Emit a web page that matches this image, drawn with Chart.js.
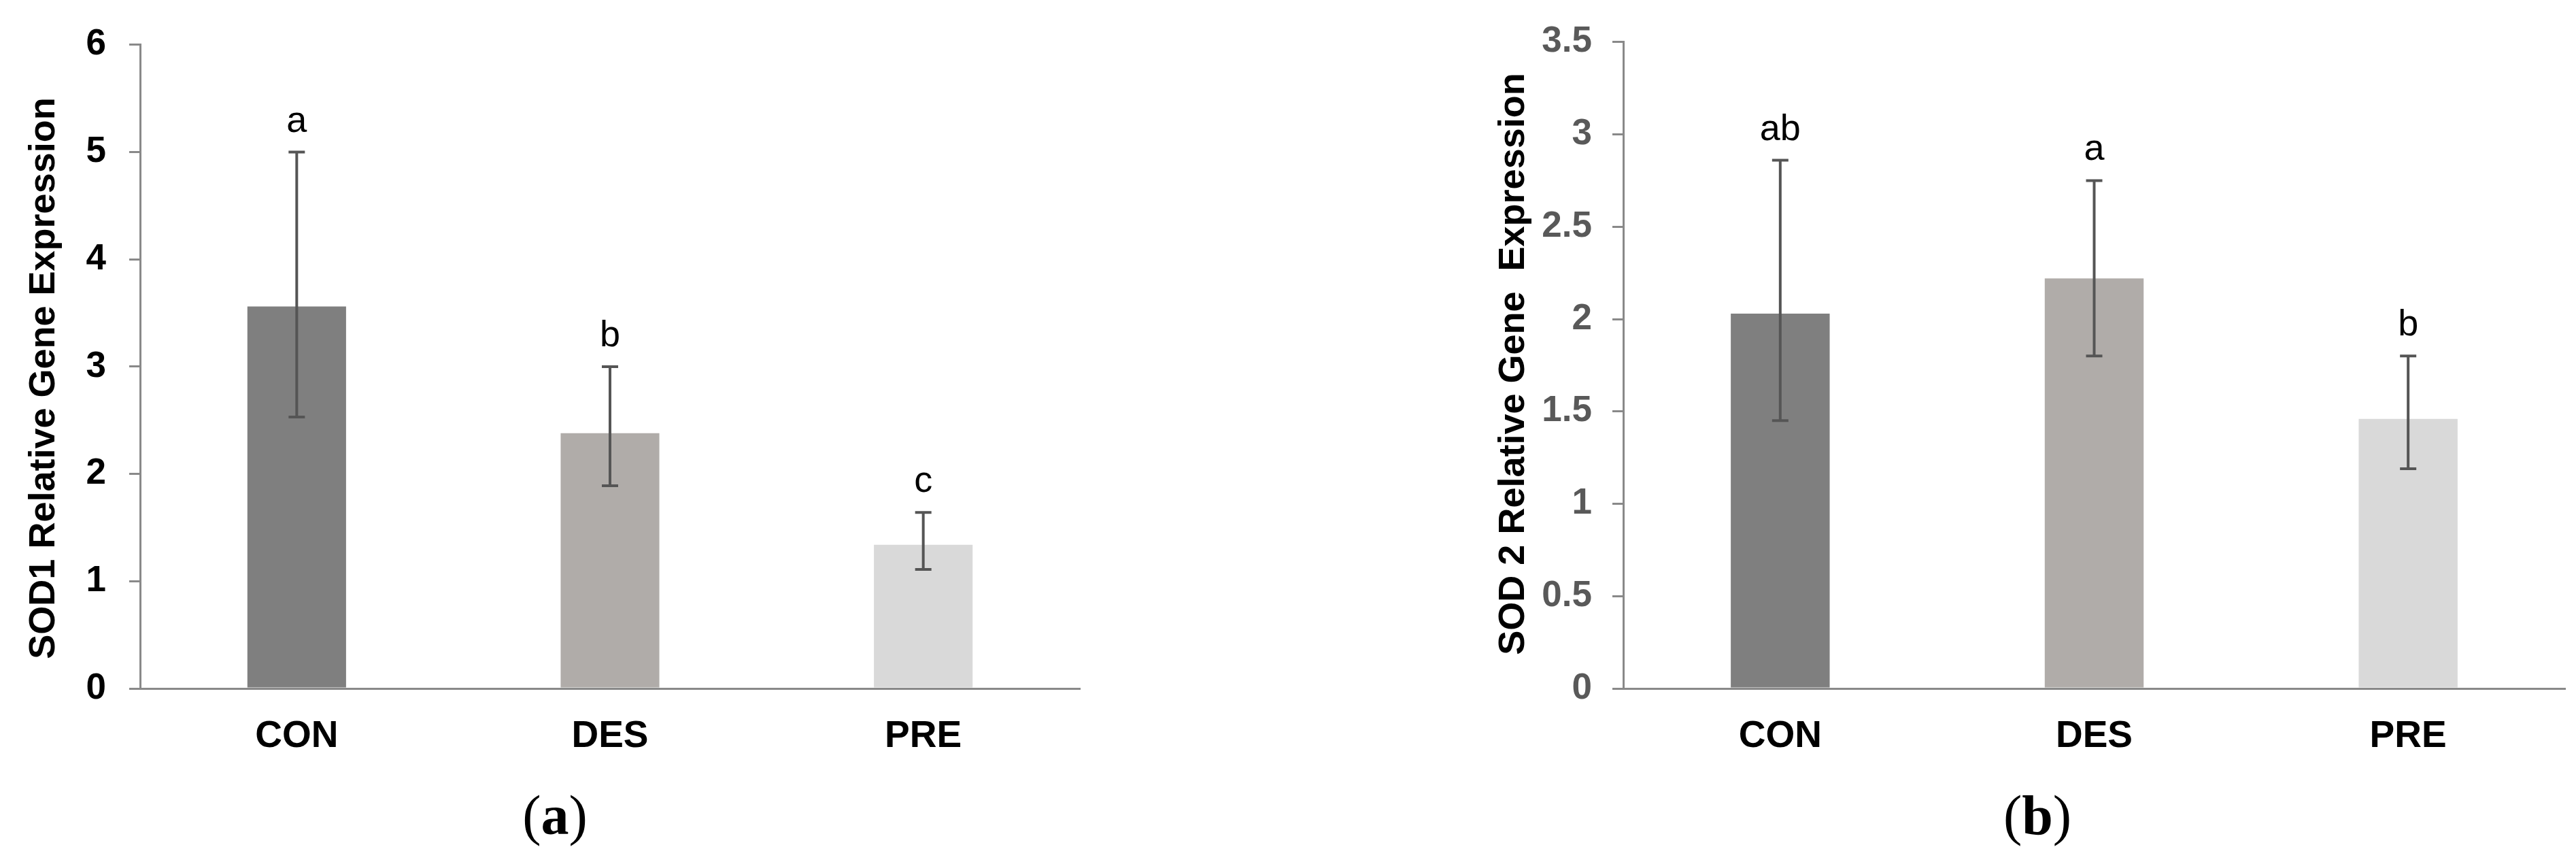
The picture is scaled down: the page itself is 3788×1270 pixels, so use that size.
<!DOCTYPE html>
<html>
<head>
<meta charset="utf-8">
<script src="https://cdn.jsdelivr.net/npm/chart.js@4"></script>
<style>
  body { margin: 0; background: #fff; width: 3788px; height: 1270px; position: relative; overflow: hidden; }
  canvas { position: absolute; top: 0; }
  #chartA { left: 0; }
  #chartB { left: 2140px; }
  .panel { position: absolute; top: 1158px; font-family: "Liberation Serif", "Times New Roman", serif; font-size: 82px; line-height: 1; transform: translateX(-50%); color: #000; }
  .panel b { font-weight: bold; }
</style>
</head>
<body>
<canvas id="chartA" width="1640" height="1130"></canvas>
<canvas id="chartB" width="1648" height="1130"></canvas>
<div class="panel" style="left:816px">(<b>a</b>)</div>
<div class="panel" style="left:2996px">(<b>b</b>)</div>
<script>
// data
const categories = ['CON', 'DES', 'PRE'];
const barColors = ['#7f7f7f', '#b0aca9', '#d9d9d9'];

const sod1Mean = [3.56, 2.38, 1.34];
const sod1Upper = [5.00, 3.00, 1.64];
const sod1Lower = [2.53, 1.89, 1.11];
const sod1Letters = ['a', 'b', 'c'];

const sod2Mean = [2.03, 2.22, 1.46];
const sod2Upper = [2.86, 2.75, 1.80];
const sod2Lower = [1.45, 1.80, 1.19];
const sod2Letters = ['ab', 'a', 'b'];

const sod1Axis = { max: 6, step: 1 };
const sod2Axis = { max: 3.5, step: 0.5 };

const axisGrey = '#898989';
const fontFam = '"Liberation Sans", Arial, sans-serif';

// error bars + significance letters
const errorBars = {
  id: 'errorBars',
  afterDatasetsDraw(chart, args, opts) {
    const { ctx, scales: { x, y } } = chart;
    ctx.save();
    ctx.strokeStyle = '#555';
    ctx.lineWidth = 4;
    ctx.fillStyle = '#000';
    ctx.font = '54px ' + fontFam;
    ctx.textAlign = 'center';
    ctx.textBaseline = 'alphabetic';
    opts.upper.forEach((hi, i) => {
      const px = x.getPixelForValue(i);
      const top = y.getPixelForValue(hi);
      const bot = y.getPixelForValue(opts.lower[i]);
      ctx.beginPath();
      ctx.moveTo(px, top); ctx.lineTo(px, bot);
      ctx.moveTo(px - 12, top); ctx.lineTo(px + 12, top);
      ctx.moveTo(px - 12, bot); ctx.lineTo(px + 12, bot);
      ctx.stroke();
      ctx.fillText(opts.letters[i], px, top - 30);
    });
    ctx.restore();
  }
};

// rotated y title
const yTitle = {
  id: 'yTitle',
  afterDraw(chart, args, opts) {
    const ctx = chart.ctx;
    ctx.save();
    ctx.translate(opts.x, opts.y);
    ctx.rotate(-Math.PI / 2);
    ctx.font = 'bold 54px ' + fontFam;
    ctx.fillStyle = '#000';
    ctx.textAlign = 'center';
    ctx.textBaseline = 'alphabetic';
    ctx.fillText(opts.text, 0, 0);
    ctx.restore();
  }
};

function makeChart(id, mean, upper, lower, letters, axis, tickColor, yWidth, padRight, tickPad, title) {
  return new Chart(document.getElementById(id), {
    type: 'bar',
    data: {
      labels: categories,
      datasets: [{
        data: mean,
        backgroundColor: barColors,
        borderWidth: 0,
        barPercentage: 0.315,
        categoryPercentage: 1
      }]
    },
    options: {
      responsive: false,
      animation: false,
      layout: { padding: { top: 53, right: padRight, left: 0, bottom: 0 } },
      plugins: {
        legend: { display: false },
        tooltip: { enabled: false },
        errorBars: { upper, lower, letters },
        yTitle: title
      },
      scales: {
        x: {
          grid: { display: false },
          border: { display: true, color: axisGrey, width: 3 },
          ticks: { color: '#000', padding: 30, font: { family: fontFam, size: 55, weight: 'bold' } },
          afterFit: s => { s.height = 118; }
        },
        y: {
          min: 0, max: axis.max,
          grid: { drawOnChartArea: false, drawTicks: true, tickLength: 16, color: axisGrey, lineWidth: 3 },
          border: { display: true, color: axisGrey, width: 3 },
          ticks: {
            stepSize: axis.step, color: tickColor, padding: tickPad,
            font: { family: fontFam, size: 53, weight: 'bold' },
            callback: v => String(v)
          },
          afterFit: s => { s.width = yWidth; }
        }
      }
    },
    plugins: [errorBars, yTitle]
  });
}

makeChart('chartA', sod1Mean, sod1Upper, sod1Lower, sod1Letters, sod1Axis, '#000', 206, 52, 34,
  { text: 'SOD1 Relative Gene Expression', x: 80, y: 556 });
makeChart('chartB', sod2Mean, sod2Upper, sod2Lower, sod2Letters, sod2Axis, '#595959', 247, 16, 30,
  { text: 'SOD 2 Relative Gene  Expression', x: 101, y: 535 });
</script>
</body>
</html>
